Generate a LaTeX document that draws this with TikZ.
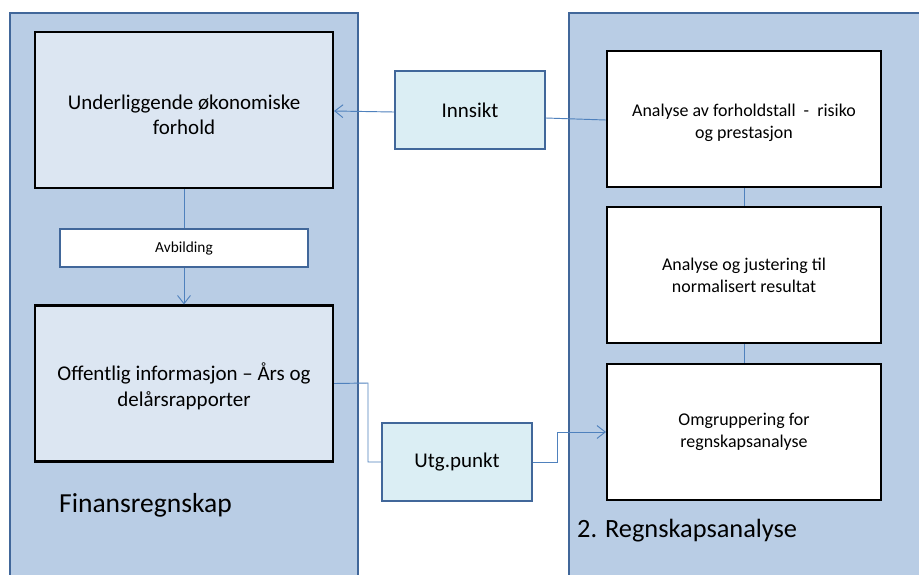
\documentclass[tikz,border=0pt]{standalone}
\usepackage{fontspec}
\setmainfont{Carlito}
\usetikzlibrary{arrows.meta}
\definecolor{panelfill}{HTML}{B9CDE5}
\definecolor{paneldraw}{HTML}{41679A}
\definecolor{boxfill}{HTML}{DCE6F2}
\definecolor{tagfill}{HTML}{DBEEF4}
\definecolor{tagdraw}{HTML}{41679A}
\definecolor{linkblue}{HTML}{4F81BD}
\tikzset{
  bigbox/.style={draw=black, line width=1.8pt, fill=boxfill, minimum width=8.94cm, minimum height=4.68cm, align=center, font=\fontsize{17.9}{21.5}\selectfont},
  stagebox/.style={draw=black, line width=1.8pt, fill=white, minimum width=8.22cm, minimum height=4.08cm, align=center, font=\fontsize{15.3}{18.5}\selectfont},
  tagbox/.style={draw=tagdraw, line width=1.6pt, fill=tagfill, minimum width=4.5cm, minimum height=2.34cm, font=\fontsize{17.9}{22}\selectfont},
  link/.style={draw=linkblue, line width=0.8pt},
  tip/.style={-{Straight Barb[length=7pt, width=11pt, line width=0.8pt]}}
}
\begin{document}
\begin{tikzpicture}[x=0.03cm, y=-0.03cm]
        \clip (0,0) rectangle (919,574);
        \fill[white] (0,0) rectangle (919,574);

        % Panels
        \draw[fill=panelfill, draw=paneldraw, line width=1.7pt] (10,13) rectangle (358,590);
        \draw[fill=panelfill, draw=paneldraw, line width=1.7pt] (569,13) rectangle (940,590);

        % Left column
        \node[bigbox] (under) at (184,110) {\rule{0pt}{20pt}Underliggende økonomiske\\forhold};
        \node[draw=tagdraw, line width=1.6pt, fill=white, minimum width=7.44cm, minimum height=1.14cm, font=\fontsize{13.1}{16}\selectfont] (avb) at (184,248) {Avbilding};
        \node[bigbox] (offentlig) at (184,383.5) {\rule{0pt}{20pt}Offentlig informasjon – Års og\\delårsrapporter};
        \node[right, font=\fontsize{23.5}{28}\selectfont] (finans) at (55,505) {Finansregnskap};

        % Right column
        \node[stagebox] (forhold) at (744,119) {\rule{0pt}{17pt}Analyse av forholdstall \ - \ risiko\\og prestasjon};
        \node[stagebox] (justering) at (744,275) {Analyse og justering til\\normalisert resultat};
        \node[stagebox] (omgr) at (744,432) {Omgruppering for\\regnskapsanalyse};
        \node[right, font=\fontsize{22.5}{27}\selectfont] (regnskap) at (573,531) {2. Regnskapsanalyse};

        % Middle tags
        \node[tagbox] (innsikt) at (470,110) {Innsikt};
        \node[tagbox] (utg) at (457,462) {Utg.punkt};

        % Connectors
        \draw[link] (under.south) -- (avb.north);
        \draw[link, tip] (avb.south) -- (offentlig.north);
        \draw[link] (justering.north) -- (forhold.south);
        \draw[link] (omgr.north) -- (justering.south);
        \draw[link] (forhold.west |- 0,120) -- (innsikt.east |- 0,118);
        \draw[link, tip] (innsikt.west |- 0,112) -- (under.east |- 0,111);
        \draw[link] (offentlig.east) -- (368,383) -- (368,462) -- (utg.west);
        \draw[link, tip] (utg.east) -- (557,462) -- (557,432) -- (omgr.west);
    \end{tikzpicture}
\end{document}
